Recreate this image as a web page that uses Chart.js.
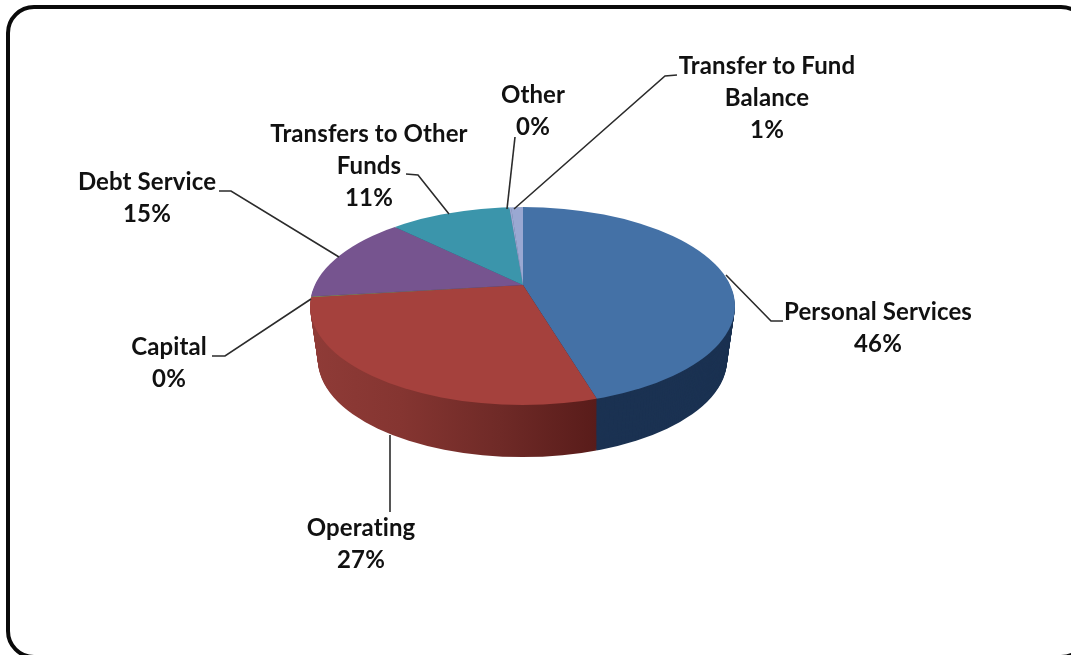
<!DOCTYPE html>
<html>
<head>
<meta charset="utf-8">
<title>Expenditures</title>
<script src="https://cdn.jsdelivr.net/npm/chart.js@4"></script>
<style>
    html, body { margin: 0; padding: 0; background: #fff; overflow: hidden; }
    #page { position: relative; width: 1071px; height: 655px; overflow: hidden; }
    #frame { position: absolute; left: 6px; top: 5px; width: 1075px; height: 646px; border: 4px solid #0a0a0a; border-radius: 28px; }
    canvas { position: absolute; left: 0; top: 0; }
</style>
</head>
<body>
<div id="page">
    <div id="frame"></div>
    <canvas id="chart-area" width="1071" height="655"></canvas>
</div>
<script>
// Values (the 0% slices are thin but not empty)
var categories = ['Personal Services', 'Operating', 'Capital', 'Debt Service', 'Transfers to Other Funds', 'Other', 'Transfer to Fund Balance'];
var shares = [46, 27, 0.15, 15.4, 10.6, 0.15, 1];
var shareLabels = ['46%', '27%', '0%', '15%', '11%', '0%', '1%'];

var topColors = ['#4471a6', '#a5413d', '#8c9a55', '#76548f', '#3b95ab', '#9aa8d2', '#9aa8d2'];
var wallColors = ['#1b3252', null, '#5a6330', '#4a3460', '#236070', '#5f6a90', '#5f6a90'];
var redWallStops = [[311, '#8f3b37'], [400, '#853531'], [500, '#6f2a27'], [595, '#591c1a']];

// Label text broken over lines, and where each block and its leader line go
var labelLines = [['Personal Services'], ['Operating'], ['Capital'], ['Debt Service'], ['Transfers to Other', 'Funds'], ['Other'], ['Transfer to Fund', 'Balance']];
var labelCentres = [[878, 312], [361, 528], [169, 347], [147, 182], [369, 134], [533, 95], [767, 66]];
var leaderLines = [
    [[783, 321], [771, 321], [726, 275]],
    [[390, 512], [390, 435]],
    [[212, 356], [225, 356], [311, 299]],
    [[219, 191], [231, 191], [339, 257]],
    [[406, 174], [418, 175], [449, 214]],
    [[515, 137], [507, 209]],
    [[677, 75], [665, 76], [514, 209]]
];

var LINE_HEIGHT = 32;
var apex = { x: 523, y: 285 };
var rim = { x: 522.5, y: 306, rx: 212.5, ry: 99 };
var PIE_SQUASH = 0.41;
var PIE_DEPTH = 52;

// Clip to the rim ellipse at some depth, then squash the pie onto it
function enterFace(ctx, arc, depth) {
    var shrink = depth / PIE_DEPTH;
    ctx.save();
    ctx.beginPath();
    ctx.ellipse(rim.x, rim.y + depth * 1.04, rim.rx - 8 * shrink, rim.ry - 2 * shrink, 0, 0, Math.PI * 2);
    ctx.clip();
    ctx.translate(apex.x, apex.y + depth);
    ctx.scale(1, PIE_SQUASH);
    ctx.translate(-arc.x, -arc.y);
}

function redWallGradient(ctx, arc) {
    var shift = arc.x - apex.x;
    var gradient = ctx.createLinearGradient(311 + shift, 0, 595 + shift, 0);
    for (var i = 0; i < redWallStops.length; i++) {
        gradient.addColorStop((redWallStops[i][0] - 311) / (595 - 311), redWallStops[i][1]);
    }
    return gradient;
}

var pie3d = {
    id: 'pie3d',
    beforeDatasetsDraw: function (chart) {
        var ctx = chart.ctx;
        var arcs = chart.getDatasetMeta(0).data;
        // The wall, built up from the bottom rim
        for (var depth = PIE_DEPTH; depth > 0; depth--) {
            enterFace(ctx, arcs[0], depth);
            for (var i = 0; i < arcs.length; i++) {
                var arc = arcs[i];
                ctx.beginPath();
                ctx.moveTo(arc.x, arc.y);
                ctx.arc(arc.x, arc.y, arc.outerRadius, arc.startAngle, arc.endAngle);
                ctx.closePath();
                ctx.fillStyle = wallColors[i] || redWallGradient(ctx, arc);
                ctx.fill();
            }
            ctx.restore();
        }
        enterFace(ctx, arcs[0], 0);
    },
    afterDatasetsDraw: function (chart) {
        chart.ctx.restore();
    },
    afterDraw: function (chart) {
        var ctx = chart.ctx;
        ctx.save();
        ctx.strokeStyle = '#2b2b2b';
        ctx.lineWidth = 1.6;
        for (var i = 0; i < leaderLines.length; i++) {
            ctx.beginPath();
            ctx.moveTo(leaderLines[i][0][0], leaderLines[i][0][1]);
            for (var p = 1; p < leaderLines[i].length; p++) {
                ctx.lineTo(leaderLines[i][p][0], leaderLines[i][p][1]);
            }
            ctx.stroke();
        }
        ctx.fillStyle = '#111';
        ctx.font = 'bold 24px Lato';
        ctx.letterSpacing = '0.1px'; // stops the "ti" ligature
        ctx.textAlign = 'center';
        ctx.textBaseline = 'middle';
        for (var k = 0; k < categories.length; k++) {
            var lines = labelLines[k].concat(shareLabels[k]);
            for (var n = 0; n < lines.length; n++) {
                ctx.fillText(lines[n], labelCentres[k][0], labelCentres[k][1] + n * LINE_HEIGHT);
            }
        }
        ctx.restore();
    }
};

var ctx = document.getElementById('chart-area').getContext('2d');
window.myPie = new Chart(ctx, {
    type: 'pie',
    data: {
        labels: categories,
        datasets: [{
            data: shares,
            backgroundColor: topColors,
            borderWidth: 0,
            clip: false
        }]
    },
    options: {
        responsive: false,
        animation: false,
        plugins: { legend: { display: false }, tooltip: { enabled: false } }
    },
    plugins: [pie3d]
});
</script>
</body>
</html>
